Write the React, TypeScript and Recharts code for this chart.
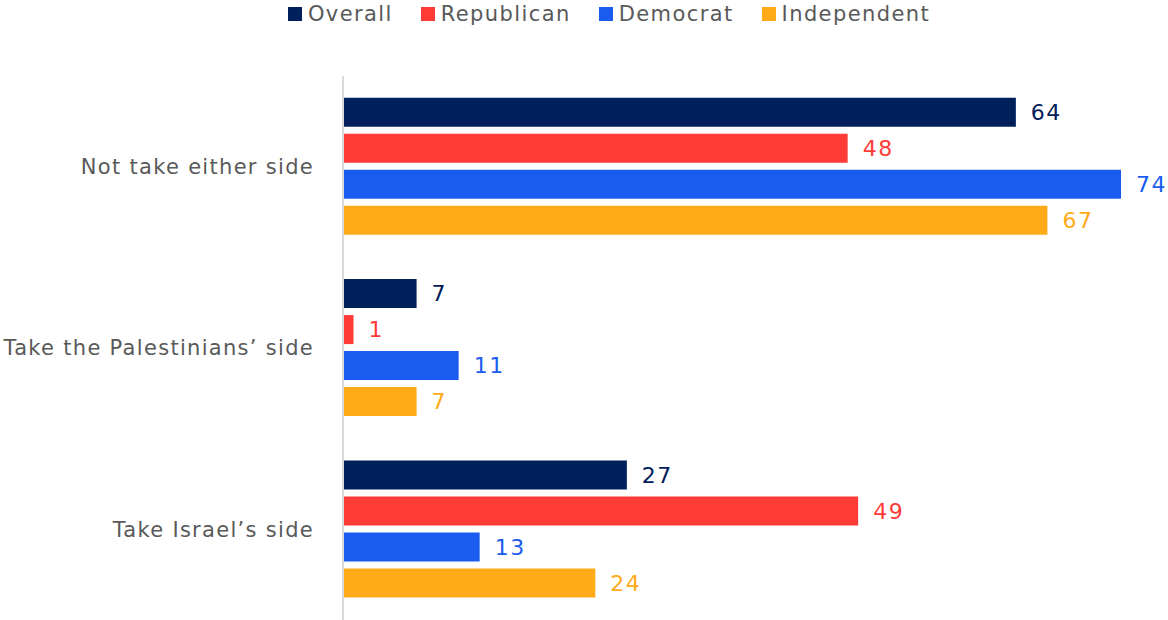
import React from 'react';
import { BarChart, Bar, XAxis, YAxis, Legend, LabelList } from 'recharts';

const categories = ['Not take either side', 'Take the Palestinians\u2019 side', 'Take Israel\u2019s side'];
const overall = [64, 7, 27];
const republican = [48, 1, 49];
const democrat = [74, 11, 13];
const independent = [67, 7, 24];

const seriesNames = ['Overall', 'Republican', 'Democrat', 'Independent'];
const seriesKeys = ['overall', 'republican', 'democrat', 'independent'];
const seriesColors = ['#00205B', '#FF3B37', '#1A5CF0', '#FFAB18'];
const labelColors = ['#00205B', '#FF3B37', '#1A5CF0', '#FFAB18'];

const data = categories.map((c, i) => ({
  category: c,
  overall: overall[i],
  republican: republican[i],
  democrat: democrat[i],
  independent: independent[i],
}));

const FONT = '"DejaVu Sans", sans-serif';

const LegendContent = () => (
  <div style={{ display: 'flex', justifyContent: 'center', height: 28, alignItems: 'center', paddingLeft: 50, boxSizing: 'border-box', fontFamily: FONT, fontSize: 21, letterSpacing: 1.4, color: '#595959' }}>
    {seriesNames.map((n, i) => (
      <div key={n} style={{ display: 'flex', alignItems: 'center', marginRight: i < 3 ? 28 : 0 }}>
        <span style={{ display: 'inline-block', width: 14, height: 14, background: seriesColors[i], marginRight: 6 }} />
        <span>{n}</span>
      </div>
    ))}
  </div>
);

export default function App() {
  return (
    <div style={{ position: 'absolute', left: 0, top: 0, width: 1168, height: 620, background: '#fff' }}>
      <BarChart
        width={1168}
        height={620}
        data={data}
        layout="vertical"
        margin={{ top: 48, right: 47, bottom: 0, left: 0 }}
        barCategoryGap="12%"
        barGap={7}
      >
        <Legend verticalAlign="top" align="center" content={<LegendContent />} wrapperStyle={{ top: 0, left: 0, width: 1168, height: 28 }} />
        <XAxis type="number" hide domain={[0, 74]} />
        <YAxis
          type="category"
          dataKey="category"
          width={343}
          tickLine={false}
          axisLine={{ stroke: '#D9D9D9', strokeWidth: 2 }}
          tickMargin={23}
          tick={{ fill: '#595959', fontSize: 21, fontFamily: FONT, letterSpacing: 1.3 }}
        />
        {seriesKeys.map((k, i) => (
          <Bar key={k} dataKey={k} name={seriesNames[i]} fill={seriesColors[i]} isAnimationActive={false}>
            <LabelList dataKey={k} position="right" offset={15} fill={labelColors[i]} fontSize={22} fontFamily={FONT} letterSpacing={1.5} />
          </Bar>
        ))}
      </BarChart>
    </div>
  );
}
